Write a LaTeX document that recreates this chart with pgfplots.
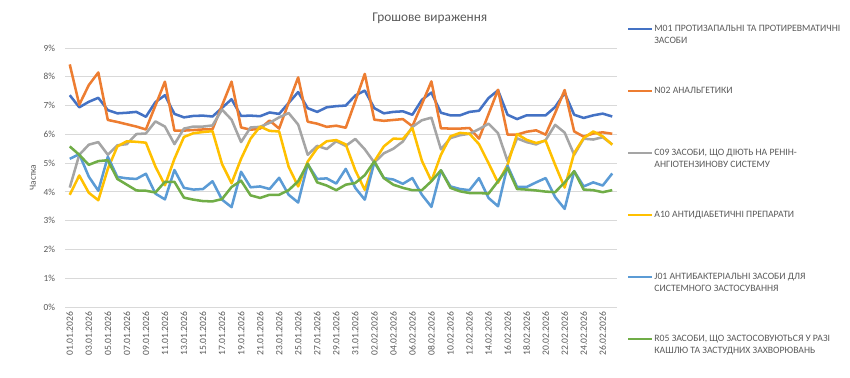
\documentclass[border=0pt]{standalone}
\usepackage{fontspec}
\setmainfont{Carlito}
\usepackage{pgfplots}
\usepackage{pgfplotstable}
\pgfplotsset{compat=1.18}
\definecolor{cM}{HTML}{4472C4}
\definecolor{cN}{HTML}{ED7D31}
\definecolor{cC}{HTML}{A5A5A5}
\definecolor{cA}{HTML}{FFC000}
\definecolor{cJ}{HTML}{5B9BD5}
\definecolor{cR}{HTML}{70AD47}
\definecolor{txt}{HTML}{595959}
\definecolor{grd}{HTML}{D9D9D9}

\pgfplotstableread{
i M01 N02 C09 A10 J01 R05
0 7.36 8.43 4.15 3.90 5.15 5.58
1 6.94 7.03 5.29 4.57 5.31 5.29
2 7.13 7.71 5.64 3.97 4.53 4.94
3 7.27 8.15 5.73 3.71 4.04 5.07
4 6.84 6.50 5.29 4.80 5.22 5.10
5 6.73 6.43 5.62 5.58 4.52 4.45
6 6.75 6.35 5.66 5.76 4.47 4.25
7 6.78 6.27 6.01 5.74 4.45 4.05
8 6.61 6.17 6.03 5.71 4.63 4.04
9 7.12 7.00 6.45 4.88 3.94 3.98
10 7.36 7.83 6.27 4.23 3.74 4.35
11 6.71 6.13 5.66 5.15 4.76 4.35
12 6.59 6.13 6.20 5.91 4.14 3.80
13 6.64 6.15 6.27 6.04 4.08 3.73
14 6.65 6.17 6.27 6.08 4.10 3.68
15 6.62 6.18 6.31 6.11 4.37 3.67
16 6.92 7.00 6.86 4.97 3.73 3.75
17 7.22 7.83 6.51 4.30 3.47 4.17
18 6.64 6.24 5.73 5.15 4.70 4.39
19 6.65 6.16 6.24 5.85 4.16 3.88
20 6.63 6.20 6.26 6.27 4.19 3.79
21 6.76 6.48 6.40 6.12 4.10 3.90
22 6.71 6.20 6.59 6.10 4.49 3.90
23 7.09 7.10 6.74 4.87 3.90 4.06
24 7.47 7.98 6.34 4.19 3.63 4.37
25 6.91 6.44 5.29 5.05 4.96 4.98
26 6.78 6.37 5.60 5.52 4.45 4.33
27 6.94 6.26 5.49 5.76 4.47 4.22
28 6.98 6.30 5.76 5.80 4.29 4.06
29 7.00 6.23 5.60 5.65 4.80 4.25
30 7.35 7.15 5.84 4.75 4.14 4.31
31 7.52 8.10 5.48 4.07 3.73 4.58
32 6.91 6.51 5.02 5.06 5.03 5.06
33 6.73 6.47 5.34 5.58 4.48 4.48
34 6.78 6.50 5.50 5.85 4.43 4.25
35 6.80 6.53 5.75 5.84 4.28 4.14
36 6.68 6.28 6.26 6.22 4.48 4.06
37 7.20 7.05 6.49 5.08 3.90 4.06
38 7.45 7.84 6.58 4.38 3.48 4.37
39 6.75 6.21 5.48 5.29 4.75 4.75
40 6.66 6.20 5.87 5.93 4.19 4.14
41 6.66 6.20 5.97 6.05 4.10 4.02
42 6.78 6.22 6.02 6.02 4.06 3.96
43 6.82 5.85 6.18 5.66 4.48 3.96
44 7.26 6.70 6.37 5.00 3.79 3.94
45 7.53 7.55 6.04 4.32 3.50 4.37
46 6.68 5.99 5.07 4.94 4.91 4.83
47 6.53 5.99 5.86 6.01 4.17 4.10
48 6.66 6.09 5.73 5.81 4.17 4.08
49 6.66 6.14 5.65 5.70 4.33 4.05
50 6.66 5.99 5.80 5.78 4.48 4.01
51 6.95 6.74 6.33 4.94 3.82 3.99
52 7.44 7.54 6.06 4.15 3.41 4.33
53 6.68 6.10 5.29 5.35 4.72 4.72
54 6.57 5.92 5.85 5.87 4.19 4.08
55 6.66 6.03 5.82 6.10 4.33 4.06
56 6.72 6.07 5.90 5.93 4.22 3.99
57 6.62 6.02 5.65 5.64 4.64 4.06
}\datatable

\newcommand{\twolines}[2]{\begin{tabular}[t]{@{}l@{}}#1\\#2\end{tabular}}

\begin{document}
\begin{tikzpicture}
\useasboundingbox (-48.75pt,-53.25pt) rectangle (588.75pt,230.25pt);
\begin{axis}[
  at={(0pt,0pt)}, anchor=south west,
  scale only axis, width=414pt, height=194.25pt,
  xmin=-0.5, xmax=57.5, ymin=0, ymax=9,
  axis line style={draw=none},
  ytick={0,1,...,9},
  yticklabel={\pgfmathprintnumber{\tick}\%},
  xtick={0,2,...,56},
  xticklabels={01.01.2026,03.01.2026,05.01.2026,07.01.2026,09.01.2026,11.01.2026,13.01.2026,15.01.2026,17.01.2026,19.01.2026,21.01.2026,23.01.2026,25.01.2026,27.01.2026,29.01.2026,31.01.2026,02.02.2026,04.02.2026,06.02.2026,08.02.2026,10.02.2026,12.02.2026,14.02.2026,16.02.2026,18.02.2026,20.02.2026,22.02.2026,24.02.2026,26.02.2026},
  major tick length=0pt,
  ymajorgrids, grid style={grd, line width=0.6pt},
  tick label style={color=txt},
  x tick label style={rotate=90, anchor=east, font=\fontsize{7.2}{8}\selectfont},
  y tick label style={font=\fontsize{7}{8}\selectfont, xshift=-4pt},
  /pgf/number format/assume math mode=true,
  ylabel={Частка},
  every axis y label/.style={at={(axis description cs:-0.058,0.5)}, rotate=90, anchor=center, font=\fontsize{7}{8}\selectfont, color=txt},
  title={Грошове вираження},
  every axis title/.style={at={(axis description cs:0.661,1.116)}, anchor=center, font=\fontsize{10}{12}\selectfont, color=txt},
  legend style={at={(axis description cs:1.018,1.089)}, anchor=north west, draw=none, fill=none, inner sep=0pt, outer sep=0pt, row sep=2.5pt, column sep=1.2pt, font=\fontsize{7.3}{8.8}\selectfont, text=txt, cells={anchor=base west}, nodes={inner sep=0pt, text height=5pt, text depth=39pt, anchor=base west}},
  legend image code/.code={\draw[#1] (0pt,2pt) -- (17.5pt,2pt);},
  every axis plot/.append style={line width=1.9pt, line join=round},
]
\addplot[cM] table[x=i,y=M01]{\datatable};
\addlegendentry{\twolines{M01 ПРОТИЗАПАЛЬНІ ТА ПРОТИРЕВМАТИЧНІ}{ЗАСОБИ}}
\addplot[cN] table[x=i,y=N02]{\datatable};
\addlegendentry{N02 АНАЛЬГЕТИКИ}
\addplot[cC] table[x=i,y=C09]{\datatable};
\addlegendentry{\twolines{C09 ЗАСОБИ, ЩО ДІЮТЬ НА РЕНІН-}{АНГІОТЕНЗИНОВУ СИСТЕМУ}}
\addplot[cA] table[x=i,y=A10]{\datatable};
\addlegendentry{A10 АНТИДІАБЕТИЧНІ ПРЕПАРАТИ}
\addplot[cJ] table[x=i,y=J01]{\datatable};
\addlegendentry{\twolines{J01 АНТИБАКТЕРІАЛЬНІ ЗАСОБИ ДЛЯ}{СИСТЕМНОГО ЗАСТОСУВАННЯ}}
\addplot[cR] table[x=i,y=R05]{\datatable};
\addlegendentry{\twolines{R05 ЗАСОБИ, ЩО ЗАСТОСОВУЮТЬСЯ У РАЗІ}{КАШЛЮ ТА ЗАСТУДНИХ ЗАХВОРЮВАНЬ}}
\end{axis}
\end{tikzpicture}
\end{document}
